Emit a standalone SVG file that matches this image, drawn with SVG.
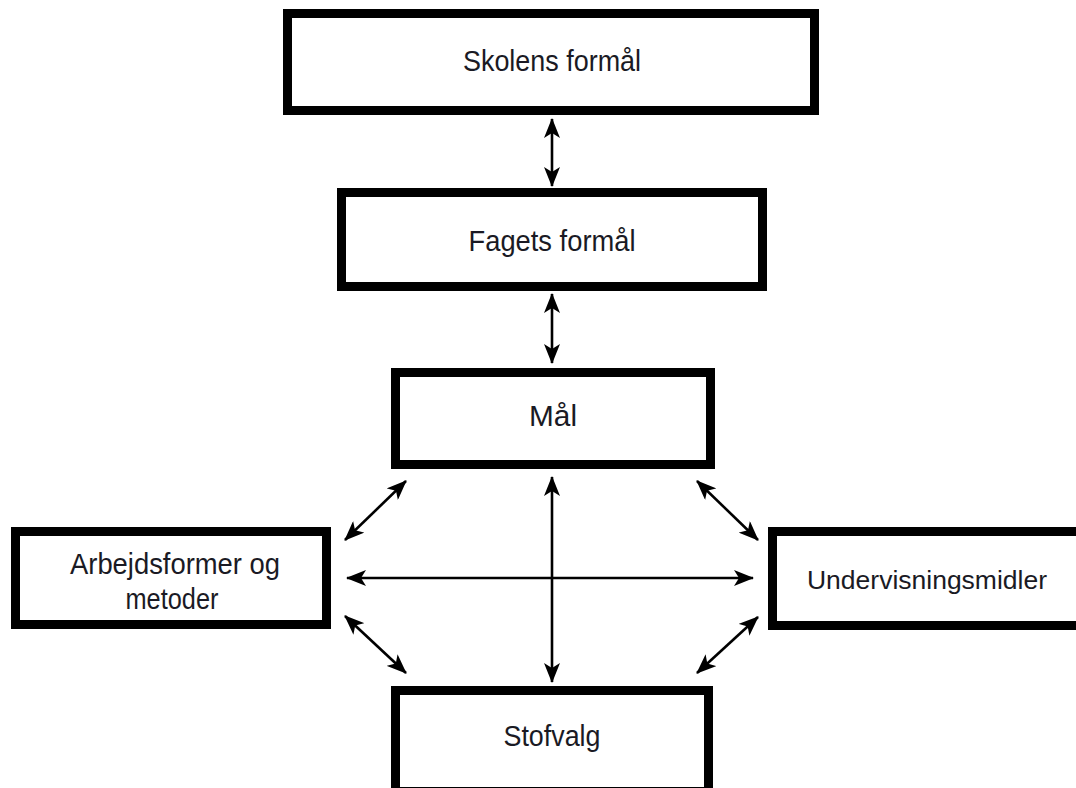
<svg xmlns="http://www.w3.org/2000/svg" width="1076" height="788" viewBox="0 0 1076 788">
<style>
.box{fill:#fff;stroke:#000;stroke-width:9}
.lbl{font-family:"Liberation Sans",Arial,sans-serif;font-size:30px;fill:#1a1a24;text-anchor:middle}
.con{stroke:#000;stroke-width:2.6;fill:none;marker-start:url(#ah);marker-end:url(#ah)}
</style>
<defs>
<marker id="ah" viewBox="0 0 20 16" refX="19" refY="8" markerWidth="20" markerHeight="16" markerUnits="userSpaceOnUse" orient="auto-start-reverse">
<path d="M0,0 L20,8 L0,16 L5,8 z" fill="#000"/>
</marker>
</defs>
<rect width="1076" height="788" fill="#fff"/>
<g id="connectors">
<line class="con" x1="552" y1="119" x2="552" y2="186"/>
<line class="con" x1="552" y1="294" x2="552" y2="363"/>
<line class="con" x1="552" y1="477" x2="552" y2="682"/>
<line class="con" x1="347" y1="578" x2="753" y2="578"/>
<line class="con" x1="345" y1="540" x2="406" y2="481"/>
<line class="con" x1="697" y1="481" x2="758" y2="540"/>
<line class="con" x1="345" y1="616" x2="406" y2="673"/>
<line class="con" x1="758" y1="617" x2="697" y2="673"/>
</g>
<g id="skolens">
<rect class="box" x="287.5" y="13.5" width="527" height="97"/>
<text class="lbl" x="552" y="71" textLength="178" lengthAdjust="spacingAndGlyphs">Skolens formål</text>
</g>
<g id="fagets">
<rect class="box" x="341.5" y="192.5" width="421" height="94"/>
<text class="lbl" x="552" y="251" textLength="167" lengthAdjust="spacingAndGlyphs">Fagets formål</text>
</g>
<g id="maal">
<rect class="box" x="395.5" y="372.5" width="315" height="92"/>
<text class="lbl" x="553" y="426" textLength="48" lengthAdjust="spacingAndGlyphs">Mål</text>
</g>
<g id="arbejdsformer">
<rect class="box" x="15.5" y="531.5" width="311" height="93"/>
<text class="lbl" x="175" y="574" textLength="210" lengthAdjust="spacingAndGlyphs">Arbejdsformer og</text>
<text class="lbl" x="172" y="609" textLength="93" lengthAdjust="spacingAndGlyphs">metoder</text>
</g>
<g id="undervisningsmidler">
<path class="box" d="M1076,531.5 H772.5 V625.5 H1076"/>
<text class="lbl" x="927" y="589" style="font-size:26.5px">Undervisningsmidler</text>
</g>
<g id="stofvalg">
<rect class="box" x="395.5" y="690.5" width="313" height="101"/>
<text class="lbl" x="552" y="746" textLength="97" lengthAdjust="spacingAndGlyphs">Stofvalg</text>
</g>
</svg>
